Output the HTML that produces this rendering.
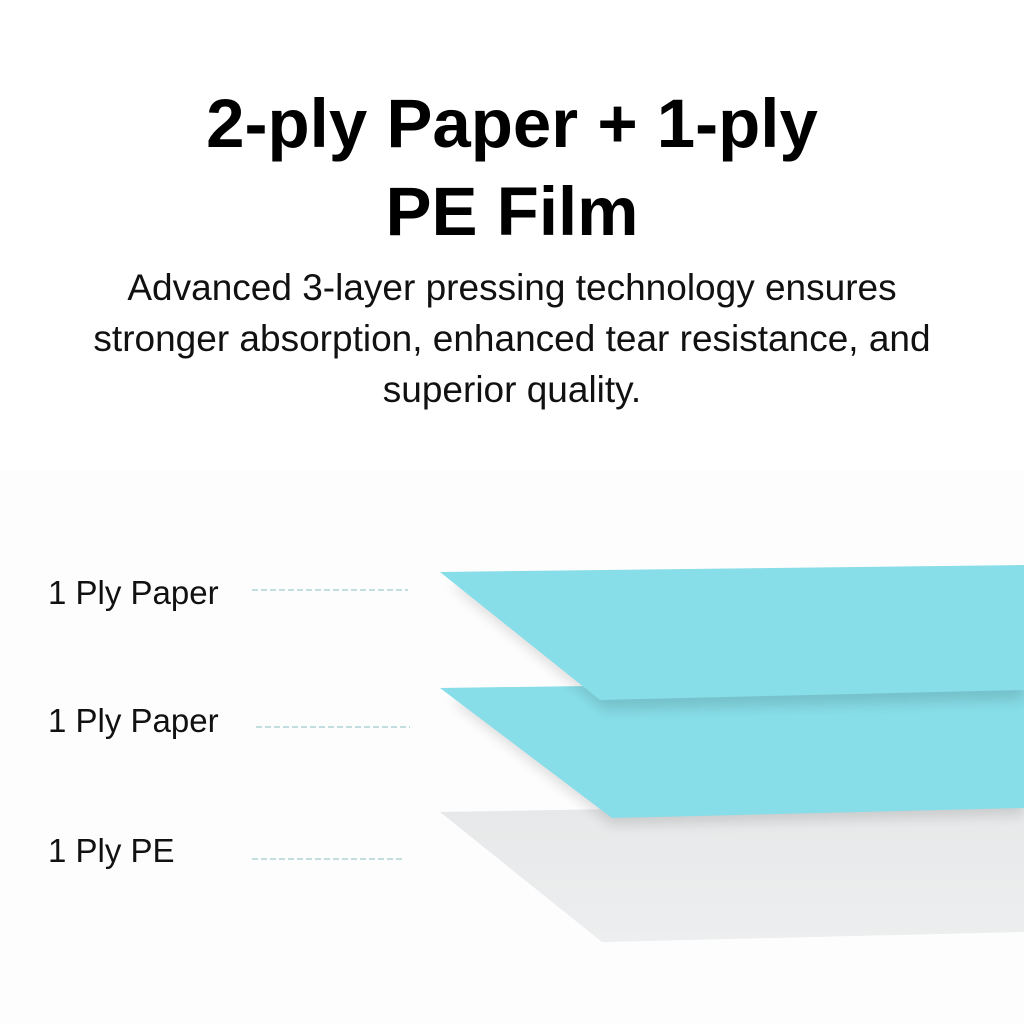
<!DOCTYPE html>
<html><head><meta charset="utf-8"><style>
body{margin:0;width:1024px;height:1024px;background:#fff;position:relative;overflow:hidden;font-family:"Liberation Sans",sans-serif;}
.t{position:absolute;left:0;width:1024px;text-align:center;font-weight:bold;font-size:69px;color:#000;line-height:88px;top:80px;}
.s{position:absolute;left:77px;width:870px;text-align:center;font-size:37px;line-height:51px;top:262px;color:#111;}
.l{position:absolute;left:48px;font-size:33px;color:#111;}
</style></head><body>
<div class="t">2-ply Paper + 1-ply<br>PE Film</div>
<div class="s">Advanced 3-layer pressing technology ensures stronger absorption, enhanced tear resistance, and superior quality.</div>
<svg width="1024" height="1024" style="position:absolute;left:0;top:0">
<defs>
<filter id="b" x="-10%" y="-10%" width="130%" height="150%"><feGaussianBlur stdDeviation="6"/></filter>
<linearGradient id="pe" x1="0" y1="0" x2="0" y2="1"><stop offset="0" stop-color="#e6e8e9"/><stop offset="1" stop-color="#eceeef"/></linearGradient>
</defs>
<rect x="0" y="470" width="1024" height="554" fill="#fdfdfd"/>
<polygon points="440,812 1024,802 1024,932 602,942" fill="url(#pe)"/>
<polygon points="450,700 1024,690 1024,815 612,825" fill="#000" opacity="0.12" filter="url(#b)"/>
<polygon points="440,688 1024,680 1024,808 612,818" fill="#87dde8"/>
<polygon points="450,585 1024,577 1024,700 605,710" fill="#000" opacity="0.12" filter="url(#b)"/>
<polygon points="440,572 1024,565 1024,690 600,700" fill="#87dde8"/>
<g stroke="#c3dede" stroke-width="2" stroke-dasharray="6,3">
<line x1="252" y1="590" x2="408" y2="590"/>
<line x1="256" y1="727" x2="410" y2="727"/>
<line x1="252" y1="859" x2="405" y2="859"/>
</g>
</svg>
<div class="l" style="top:574px">1 Ply Paper</div>
<div class="l" style="top:702px">1 Ply Paper</div>
<div class="l" style="top:832px">1 Ply PE</div>
</body></html>
